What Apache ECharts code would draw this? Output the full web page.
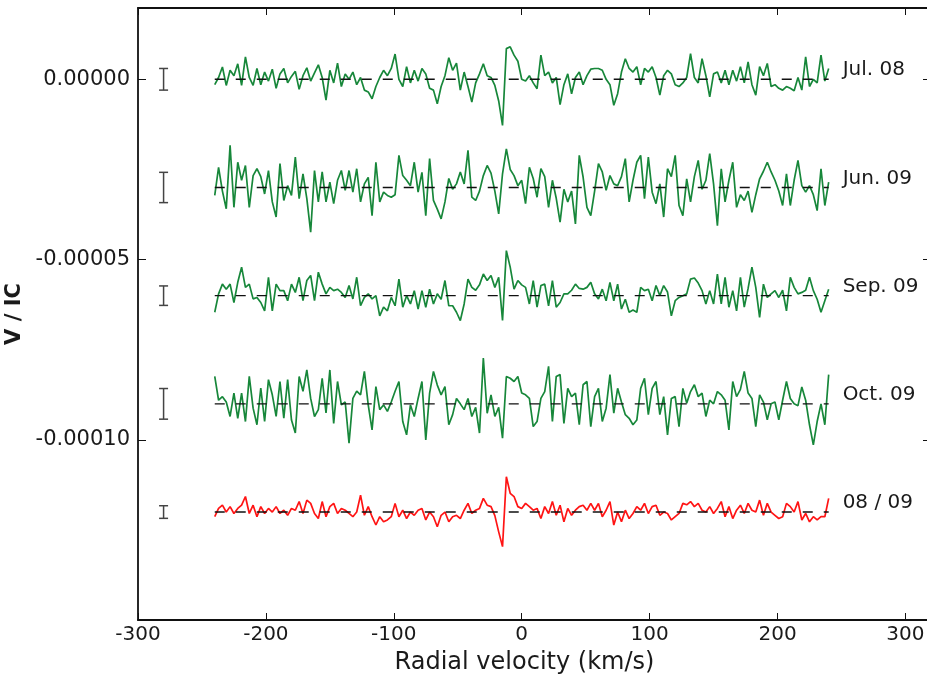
<!DOCTYPE html>
<html>
<head>
<meta charset="utf-8">
<script src="https://cdn.jsdelivr.net/npm/echarts@6/dist/echarts.min.js"></script>
<style>
html,body{margin:0;padding:0;background:#fff;}
#chart{width:927px;height:679px;}
</style>
</head>
<body>
<div id="chart"></div>
<script>
// Velocity grid (km/s)
const velStart = -240;
const velStep = 3;

// Stokes V / Ic profiles, in units of 1e-6
const jul08 = [-1.5,0.5,3.4,-1.7,2.5,1.0,4.3,-1.7,6.2,0.5,
-1.7,3.0,-1.5,2.0,-0.5,2.8,-2.5,1.5,3.0,-1.0,
0.8,2.2,-2.8,1.0,3.2,-0.5,1.8,4.0,0.5,-5.8,
2.5,-1.0,4.5,-2.0,1.5,0.0,2.0,-1.5,0.5,-3.0,
-3.5,-5.4,-2.0,0.5,2.5,1.0,3.0,7.0,0.0,-2.0,
3.5,-1.0,2.5,-0.5,3.0,1.5,-2.5,-3.0,-6.8,-2.0,
1.0,6.0,2.5,4.5,-3.0,2.0,-2.0,-6.3,-1.0,1.5,
4.3,1.0,0.5,-1.7,-6.0,-12.8,8.5,9.0,6.7,5.0,
0.0,
-0.5,1.0,-1.0,-2.6,6.7,1.0,2.0,-1.0,0.5,-7.0,
-1.5,1.5,-4.0,0.5,2.0,-1.5,1.0,2.8,3.0,3.0,
2.5,0.0,-1.5,-7.2,-4.0,2.0,5.7,3.0,2.0,3.5,
-1.5,3.0,2.0,3.5,0.5,-4.4,1.0,2.5,1.5,-1.5,
-2.0,-1.0,0.5,7.1,0.5,-1.0,5.7,1.0,-4.9,1.5,
2.0,-1.0,2.5,-1.5,2.5,-0.5,3.5,-1.0,4.8,-1.5,
-4.4,3.5,1.0,4.4,-2.0,-1.5,-2.5,-3.0,-2.0,-2.5,
-3.2,0.5,-3.0,6.2,-2.0,0.0,-1.0,6.7,-0.5,3.0];

const jun09 = [-2.2,5.6,-1.0,-5.9,11.7,-5.5,7.0,2.0,6.1,-5.5,
3.3,5.2,3.0,-1.8,4.7,-4.0,-8.2,6.6,-3.6,0.5,
-2.2,8.4,-3.1,3.8,-3.1,-12.4,4.7,-4.0,4.3,-4.0,
1.5,-4.5,2.0,4.7,-0.8,4.7,-1.3,5.2,-4.0,1.0,
2.8,-7.8,7.0,-4.0,-1.3,-2.2,-2.7,-2.0,8.9,3.3,
2.0,0.5,7.0,-1.3,4.2,-7.8,8.0,-3.6,-6.0,-8.7,
-4.0,2.5,-0.5,1.0,4.3,1.0,10.3,-2.7,-3.6,-1.0,
3.3,6.1,4.0,-1.0,-7.3,3.8,10.7,5.0,3.3,0.5,
2.0,
-4.5,5.6,2.5,-2.7,5.2,3.0,-5.5,2.0,-3.0,-9.6,
-0.5,-4.0,-1.0,-10.1,8.9,2.9,-5.5,-7.8,-1.0,6.6,
4.3,-0.8,3.3,1.0,0.5,3.0,8.0,-4.0,2.0,7.0,
8.9,-3.1,8.4,-1.3,-4.5,1.0,-8.2,5.2,3.0,8.9,
-5.0,-7.8,2.4,-4.0,3.0,7.5,-0.5,2.0,9.4,1.0,
-10.6,5.2,-4.0,2.0,7.0,-5.5,-2.0,-3.6,-1.0,-6.9,
-2.0,2.4,4.5,7.0,4.3,2.0,-1.0,-5.0,3.8,-5.0,
2.0,7.5,0.5,-1.3,0.5,-2.0,-6.4,5.2,-5.0,1.5];

const sep09 = [-4.6,0.5,3.2,1.8,3.2,-1.9,3.7,7.9,2.3,3.2,
-0.9,-0.5,-1.9,-4.2,5.1,-4.2,3.2,1.4,1.4,-1.4,
3.2,0.9,5.1,-1.4,4.2,5.6,-1.4,6.5,3.2,0.5,
2.3,1.4,1.8,0.9,-0.5,2.8,-0.9,5.1,-2.8,-0.5,
0.5,-0.9,0.0,-5.6,-3.2,-4.2,-0.5,-2.8,4.6,-3.2,
0.0,-2.3,1.4,-3.7,1.4,-3.2,1.8,-2.3,0.5,-1.0,
4.2,-2.8,-2.8,-4.6,-6.9,-2.3,4.6,2.3,1.5,3.0,
6.0,4.2,5.6,2.3,5.1,-6.9,12.5,7.9,1.8,4.2,
3.0,
2.3,-2.3,4.2,-3.2,2.8,3.2,-2.8,4.2,-3.2,-1.9,
0.5,0.5,1.5,3.2,2.0,1.8,2.3,3.7,0.5,-0.9,
1.8,-1.4,3.7,-1.4,3.2,-3.7,-1.0,-4.6,-4.0,-4.6,
2.3,1.4,1.8,-1.4,2.8,0.0,2.8,1.0,-5.6,-1.4,
-0.5,0.0,0.5,4.6,4.9,3.5,1.4,-2.3,1.4,-2.3,
6.0,-2.3,5.1,-3.2,1.4,-4.2,5.1,-3.2,2.0,7.9,
2.3,-6.0,3.2,-0.5,0.5,1.4,-0.5,1.5,-4.2,5.1,
2.3,0.5,0.9,1.5,5.1,1.4,-1.0,-4.6,-1.4,1.8];

const oct09 = [7.6,1.0,2.0,0.5,-3.5,3.0,-4.0,3.0,-4.9,7.6,
-1.2,-5.8,4.4,-4.9,6.7,2.5,-3.5,6.2,-4.0,6.7,
-4.5,-8.1,7.6,3.5,9.4,1.5,-3.5,-1.6,7.1,-2.5,
9.4,-5.4,6.2,-0.3,0.5,-10.9,1.5,3.5,2.5,9.0,
-0.3,-7.2,4.8,-1.6,-0.3,-2.1,0.5,3.5,6.2,-4.9,
-8.6,-0.3,-3.5,1.5,6.2,-10.0,3.0,9.0,5.2,2.5,
4.8,-5.8,-3.0,1.5,0.0,-1.6,1.5,-3.5,-1.0,-8.1,
12.7,-2.6,2.5,-3.5,-1.0,-9.5,7.6,7.1,6.2,7.6,
3.0,
2.5,1.5,-6.3,-4.9,1.5,3.4,10.4,-4.9,7.6,8.1,
-5.4,4.3,2.0,3.0,-5.8,5.3,6.2,-6.3,2.0,4.3,
-4.9,-1.2,8.1,-2.6,4.3,0.5,-3.0,-4.0,-5.8,-4.5,
4.3,7.1,-3.0,4.3,6.2,-3.0,2.0,-8.6,1.5,2.0,
-6.3,4.3,0.2,3.4,5.3,2.0,3.0,-3.5,1.0,0.0,
3.4,2.5,1.0,-7.2,6.2,2.0,4.0,9.0,3.0,1.5,
-6.3,2.5,0.5,-4.4,0.0,0.5,-4.4,1.0,6.2,1.5,
0.0,-0.5,4.7,1.0,-5.8,-11.4,-4.9,0.0,-5.8,8.1];

const mean0809 = [-1.3,1.0,1.9,0.0,1.5,-0.4,1.0,1.9,4.3,-0.4,
1.9,-1.3,1.5,-0.4,1.0,0.0,1.5,-0.4,0.5,-0.9,
1.0,0.5,2.9,-0.4,3.3,2.4,-0.4,-1.8,2.9,-1.3,
1.5,2.4,-0.4,1.0,0.5,-0.4,-1.3,0.0,4.7,-0.9,
1.5,-1.3,-3.6,-1.3,-2.7,-2.2,-1.3,2.4,-1.3,0.5,
-1.8,0.0,-0.9,0.5,1.0,-2.2,0.0,-1.3,-4.1,-0.9,
0.0,-2.7,-1.3,-0.9,-1.8,0.5,2.4,-0.4,0.5,1.0,
3.8,1.9,1.5,-1.0,-5.5,-9.6,9.8,5.2,4.3,1.5,
1.0,
2.4,1.5,0.5,1.0,-1.8,1.5,-0.4,2.9,-0.9,1.9,
-2.7,1.0,-0.9,0.5,1.5,1.9,0.5,2.4,0.5,2.4,
-1.3,0.5,2.9,-3.6,0.0,-2.7,0.5,-1.8,-0.4,1.5,
0.5,2.4,-0.4,1.5,1.9,-0.9,0.0,-0.4,-2.2,-1.3,
-0.4,2.4,2.0,2.9,1.5,2.4,0.5,0.0,1.5,-0.4,
1.0,2.9,-1.3,1.5,-1.8,0.5,1.9,-0.4,2.4,0.5,
0.0,3.3,-0.9,2.4,0.0,-0.9,-1.8,-1.3,2.4,1.5,
0.0,2.9,-2.2,-0.4,-2.7,-1.3,-2.2,-1.3,-1.3,3.8];

// Epoch labels, vertical shifts (1e-6) and error bar half-lengths (1e-6)
const epochNames = ['Jul. 08', 'Jun. 09', 'Sep. 09', 'Oct. 09', '08 / 09'];
const shifts = [0, -30, -60, -90, -120];
const errHalf = [3.0, 4.2, 2.7, 4.25, 1.75];
const errVel = -280;
const labelVel = 247;
const labelLift = 2.5;
const profiles = [jul08, jun09, sep09, oct09, mean0809];

// Axis ticks
const xTicks = [-300, -200, -100, 0, 100, 200, 300];
const yTicks = [0, -0.00005, -0.0001];

const SCALE = 1e-6;
const GREEN = '#17873a';
const RED = '#ff1414';
const lineColors = [GREEN, GREEN, GREEN, GREEN, RED];
const FONT = 'DejaVu Sans';

const vel = jul08.map((_, i) => velStart + velStep * i);
const vMin = vel[0], vMax = vel[vel.length - 1];

const series = [];
profiles.forEach((p, k) => {
  series.push({
    type: 'line',
    data: p.map((v, i) => [vel[i], (v + shifts[k]) * SCALE]),
    showSymbol: false,
    symbol: 'none',
    lineStyle: { color: lineColors[k], width: 1.7 },
    z: 2,
    silent: true
  });
  series.push({
    type: 'line',
    data: [[vMin, shifts[k] * SCALE], [vMax, shifts[k] * SCALE]],
    symbol: 'none',
    lineStyle: { color: '#111', width: 1.4, type: [10, 11] },
    z: 3,
    silent: true
  });
});

series.push({
  type: 'custom',
  silent: true,
  z: 4,
  data: shifts.map((s, k) => [errVel, s * SCALE, errHalf[k] * SCALE]),
  renderItem: function (params, api) {
    const x = api.value(0), yc = api.value(1), h = api.value(2);
    const top = api.coord([x, yc + h]);
    const bot = api.coord([x, yc - h]);
    const st = { stroke: '#444', lineWidth: 1.5 };
    const cw = 4.5;
    return {
      type: 'group',
      children: [
        { type: 'line', shape: { x1: top[0], y1: top[1], x2: bot[0], y2: bot[1] }, style: st },
        { type: 'line', shape: { x1: top[0] - cw, y1: top[1], x2: top[0] + cw, y2: top[1] }, style: st },
        { type: 'line', shape: { x1: bot[0] - cw, y1: bot[1], x2: bot[0] + cw, y2: bot[1] }, style: st }
      ]
    };
  }
});

series.push({
  type: 'scatter',
  silent: true,
  symbolSize: 0,
  itemStyle: { opacity: 1 },
  data: shifts.map((s, k) => ({ value: [labelVel, (s + labelLift) * SCALE], name: epochNames[k] })),
  label: {
    show: true,
    position: 'right',
    distance: 5,
    formatter: p => p.name,
    fontFamily: FONT,
    fontSize: 20,
    color: '#1a1a1a'
  },
  z: 5
});

const axisLineStyle = { show: true, onZero: false, lineStyle: { color: '#111', width: 1.8 } };
const option = {
  animation: false,
  backgroundColor: '#fff',
  grid: { left: 138, right: -4, top: 8, bottom: 59, containLabel: false, outerBoundsMode: 'none' },
  xAxis: [{
    type: 'value', min: -300, max: 320, position: 'bottom',
    axisLine: axisLineStyle,
    axisTick: { show: true, inside: true, length: 7, customValues: xTicks, lineStyle: { color: '#111', width: 1 } },
    axisLabel: { show: true, customValues: xTicks, fontFamily: FONT, fontSize: 20, color: '#1a1a1a', margin: 5 },
    splitLine: { show: false },
    name: 'Radial velocity (km/s)', nameLocation: 'middle', nameGap: 31,
    nameTextStyle: { fontFamily: FONT, fontSize: 24, color: '#1a1a1a', padding: [0, 20, 0, 0] }
  }, {
    type: 'value', min: -300, max: 320, position: 'top',
    axisLine: axisLineStyle,
    axisTick: { show: true, inside: true, length: 7, customValues: xTicks, lineStyle: { color: '#111', width: 1 } },
    axisLabel: { show: false },
    splitLine: { show: false }
  }],
  yAxis: [{
    type: 'value', min: -0.00014994, max: 0.00001977, position: 'left',
    axisLine: axisLineStyle,
    axisTick: { show: true, inside: true, length: 8, customValues: yTicks, lineStyle: { color: '#111', width: 1 } },
    axisLabel: { show: true, customValues: yTicks, formatter: v => Number(v).toFixed(5),
      fontFamily: FONT, fontSize: 21, color: '#1a1a1a', margin: 8 },
    splitLine: { show: false },
    name: 'V / IC', nameLocation: 'middle', nameGap: 112, nameRotate: 90,
    nameTextStyle: { fontFamily: FONT, fontSize: 21, fontWeight: 'bold', color: '#1a1a1a' }
  }, {
    type: 'value', min: -0.00014994, max: 0.00001977, position: 'right',
    axisLine: axisLineStyle,
    axisTick: { show: true, inside: true, length: 8, customValues: yTicks, lineStyle: { color: '#111', width: 1 } },
    axisLabel: { show: false },
    splitLine: { show: false }
  }],
  series: series
};

const chart = echarts.init(document.getElementById('chart'), null, { renderer: 'canvas' });
chart.setOption(option);
</script>
</body>
</html>
